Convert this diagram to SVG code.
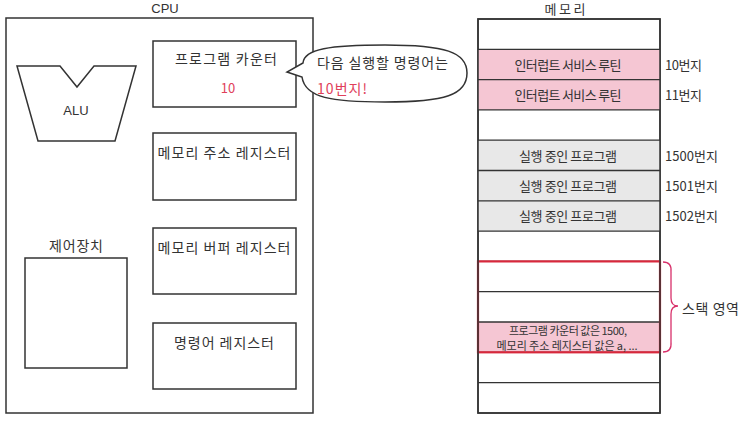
<svg xmlns="http://www.w3.org/2000/svg" width="739" height="422" viewBox="0 0 739 422">
<style>
.t{font-family:"Noto Sans CJK KR","Noto Sans",sans-serif;fill:#333;dominant-baseline:central}
.l{font-family:"Liberation Sans",sans-serif;fill:#333;dominant-baseline:central}
.box{fill:#fff;stroke:#333;stroke-width:1.5}
.red{fill:#e0405a}
.row{stroke:#333;stroke-width:1.3}
</style>
<rect width="739" height="422" fill="#fff"/>

<g id="cpu">
<text class="l" x="165" y="8" font-size="13" text-anchor="middle">CPU</text>
<rect class="box" x="6" y="18" width="307" height="395"/>
</g>

<g id="alu">
<path class="box" d="M17,66 L60,66 L77,87 L94,66 L136,66 L115,141 L38,141 Z" stroke-linejoin="miter"/>
<text class="l" x="76" y="110" font-size="13" text-anchor="middle">ALU</text>
</g>

<g id="control-unit">
<text class="t" x="76" y="245" font-size="14" text-anchor="middle" textLength="54" lengthAdjust="spacing">제어장치</text>
<rect class="box" x="25" y="258" width="102" height="110"/>
</g>

<g id="program-counter">
<rect class="box" x="153" y="41" width="143" height="66"/>
<text class="t" x="226" y="58" font-size="14" text-anchor="middle" textLength="102" lengthAdjust="spacing">프로그램 카운터</text>
<text class="t red" x="228" y="87" font-size="13" text-anchor="middle">10</text>
</g>

<g id="mar">
<rect class="box" x="153" y="133" width="143" height="67"/>
<text class="t" x="224" y="152" font-size="14" text-anchor="middle" textLength="133" lengthAdjust="spacing">메모리 주소 레지스터</text>
</g>

<g id="mbr">
<rect class="box" x="153" y="228" width="143" height="66"/>
<text class="t" x="224" y="247" font-size="14" text-anchor="middle" textLength="133" lengthAdjust="spacing">메모리 버퍼 레지스터</text>
</g>

<g id="ir">
<rect class="box" x="153" y="323" width="143" height="66"/>
<text class="t" x="224" y="342" font-size="14" text-anchor="middle" textLength="100" lengthAdjust="spacing">명령어 레지스터</text>
</g>

<g id="bubble">
<path class="box" d="M303,63 C304,49 330,45 385,45 C445,45 467,52 467,73 C467,95 445,102 385,102 C332,102 305,98 302,77 L287,72 Z"/>
<text class="t" x="317" y="62" font-size="14" textLength="131" lengthAdjust="spacing">다음 실행할 명령어는</text>
<text class="t red" x="317" y="88" font-size="14" textLength="50" lengthAdjust="spacing">10번지!</text>
</g>

<g id="memory">
<text class="t" x="565" y="8" font-size="13" text-anchor="middle" textLength="41" lengthAdjust="spacing">메모리</text>
<rect x="478" y="19" width="182" height="394" fill="#fff" stroke="#333" stroke-width="1.5"/>
<rect x="478" y="49.3" width="182" height="60.6" fill="#f5c6d3"/>
<rect x="478" y="140.2" width="182" height="90.9" fill="#e8e8e8"/>
<rect x="478" y="322" width="182" height="30.3" fill="#f5c6d3"/>
<g class="row">
<line x1="478" y1="49.3" x2="660" y2="49.3"/>
<line x1="478" y1="79.6" x2="660" y2="79.6"/>
<line x1="478" y1="109.9" x2="660" y2="109.9"/>
<line x1="478" y1="140.2" x2="660" y2="140.2"/>
<line x1="478" y1="170.5" x2="660" y2="170.5"/>
<line x1="478" y1="200.8" x2="660" y2="200.8"/>
<line x1="478" y1="231.1" x2="660" y2="231.1"/>
<line x1="478" y1="261.4" x2="660" y2="261.4"/>
<line x1="478" y1="291.7" x2="660" y2="291.7"/>
<line x1="478" y1="322" x2="660" y2="322"/>
<line x1="478" y1="352.3" x2="660" y2="352.3"/>
<line x1="478" y1="382.6" x2="660" y2="382.6"/>
</g>
<rect x="478" y="261.4" width="182" height="90.9" fill="none" stroke="#d8283c" stroke-width="2.2"/>
<rect x="478" y="19" width="182" height="394" fill="none" stroke="#333" stroke-width="1.5"/>
</g>

<g id="cells">
<text class="t" x="568" y="64" font-size="13" text-anchor="middle" textLength="107" lengthAdjust="spacing">인터럽트 서비스 루틴</text>
<text class="t" x="568" y="94" font-size="13" text-anchor="middle" textLength="107" lengthAdjust="spacing">인터럽트 서비스 루틴</text>
<text class="t" x="568" y="155" font-size="13" text-anchor="middle" textLength="98" lengthAdjust="spacing">실행 중인 프로그램</text>
<text class="t" x="568" y="185" font-size="13" text-anchor="middle" textLength="98" lengthAdjust="spacing">실행 중인 프로그램</text>
<text class="t" x="568" y="215" font-size="13" text-anchor="middle" textLength="98" lengthAdjust="spacing">실행 중인 프로그램</text>
<text class="t" x="568" y="330" font-size="11" text-anchor="middle" textLength="118" lengthAdjust="spacing">프로그램 카운터 값은 1500,</text>
<text class="t" x="567" y="345" font-size="11" text-anchor="middle" textLength="141" lengthAdjust="spacing">메모리 주소 레지스터 값은 a, ...</text>
</g>

<g id="addresses">
<text class="t" x="665" y="64" font-size="13" textLength="37" lengthAdjust="spacing">10번지</text>
<text class="t" x="665" y="94" font-size="13" textLength="37" lengthAdjust="spacing">11번지</text>
<text class="t" x="665" y="155" font-size="13" textLength="53" lengthAdjust="spacing">1500번지</text>
<text class="t" x="665" y="185" font-size="13" textLength="53" lengthAdjust="spacing">1501번지</text>
<text class="t" x="665" y="215" font-size="13" textLength="53" lengthAdjust="spacing">1502번지</text>
</g>

<g id="stack-label">
<path d="M663,262 Q672,262 671,272 L671,298 Q671,306 678,306 Q671,306 671,314 L671,342 Q672,352 663,352" fill="none" stroke="#d8306a" stroke-width="1.3"/>
<text class="t" x="682" y="308" font-size="14" textLength="57" lengthAdjust="spacing">스택 영역</text>
</g>
</svg>
